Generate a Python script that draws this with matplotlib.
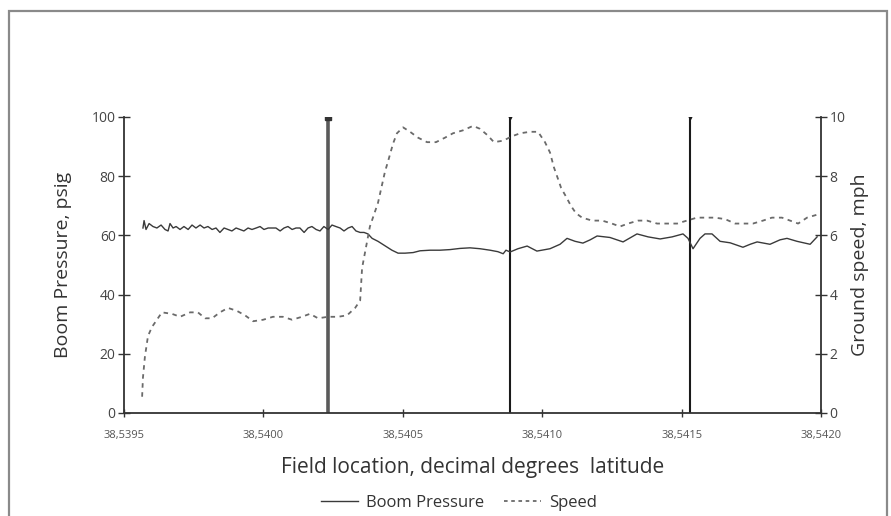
import matplotlib
matplotlib.use("Agg")
import matplotlib.pyplot as plt
from matplotlib.lines import Line2D
from matplotlib.patches import Rectangle
from matplotlib.ticker import FuncFormatter

# ---------------- data ----------------
pressure_lat = [
    38.539568, 38.539572, 38.539579, 38.539590, 38.539604, 38.539618, 38.539633, 38.539647,
    38.539658, 38.539665, 38.539676, 38.539687, 38.539701, 38.539715, 38.539730, 38.539744,
    38.539758, 38.539773, 38.539787, 38.539801, 38.539816, 38.539830, 38.539844, 38.539859,
    38.539873, 38.539887, 38.539902, 38.539916, 38.539930, 38.539945, 38.539959, 38.539974,
    38.539988, 38.540002, 38.540017, 38.540031, 38.540045, 38.540060, 38.540074, 38.540088,
    38.540103, 38.540117, 38.540131, 38.540146, 38.540160, 38.540174, 38.540189, 38.540203,
    38.540217, 38.540232, 38.540246, 38.540260, 38.540275, 38.540289, 38.540304, 38.540318,
    38.540332, 38.540347, 38.540361, 38.540375, 38.540390, 38.540411, 38.540436, 38.540461,
    38.540483, 38.540508, 38.540537, 38.540562, 38.540598, 38.540633, 38.540669, 38.540705,
    38.540741, 38.540777, 38.540813, 38.540841, 38.540860, 38.540870, 38.540885, 38.540913,
    38.540946, 38.540981, 38.541028, 38.541064, 38.541089, 38.541118, 38.541146, 38.541172,
    38.541197, 38.541243, 38.541290, 38.541340, 38.541380, 38.541423, 38.541466, 38.541505,
    38.541523, 38.541541, 38.541566, 38.541584, 38.541609, 38.541638, 38.541674, 38.541720,
    38.541746, 38.541771, 38.541817, 38.541853, 38.541878, 38.541914, 38.541961, 38.541986,
]
pressure_psig = [
    62.5, 65.0, 62.0, 64.0, 63.0, 62.5, 63.5, 62.0,
    61.5, 64.0, 62.5, 63.0, 62.0, 63.0, 62.0, 63.5,
    62.5, 63.5, 62.5, 63.0, 62.0, 62.5, 61.0, 62.5,
    62.0, 61.5, 62.5, 62.0, 61.5, 62.5, 62.0, 62.5,
    63.0, 62.0, 62.5, 62.5, 62.5, 61.5, 62.5, 63.0,
    62.0, 62.5, 62.5, 61.0, 62.5, 63.0, 62.0, 61.5,
    63.0, 62.0, 63.5, 63.0, 62.5, 61.5, 62.5, 63.0,
    61.5, 61.0, 61.0, 60.5, 59.0, 58.0, 56.5, 55.0,
    54.0, 54.0, 54.2, 54.8, 55.0, 55.0, 55.2, 55.6,
    55.8, 55.5, 55.0, 54.5, 53.8, 55.0, 54.4, 55.5,
    56.4, 54.7, 55.5, 57.0, 59.0, 58.0, 57.4, 58.5,
    59.8, 59.3, 57.8, 60.5, 59.5, 58.8, 59.5, 60.5,
    59.0, 55.5, 59.0, 60.5, 60.5, 58.0, 57.5, 56.0,
    57.0, 57.8, 57.0, 58.5, 59.0, 58.0, 57.0, 59.5,
]

speed_lat = [
    38.539565, 38.539568, 38.539575, 38.539586, 38.539600, 38.539618, 38.539636, 38.539672,
    38.539701, 38.539737, 38.539765, 38.539791, 38.539816, 38.539844, 38.539873, 38.539905,
    38.539934, 38.539963, 38.539999, 38.540034, 38.540070, 38.540103, 38.540138, 38.540167,
    38.540196, 38.540232, 38.540268, 38.540300, 38.540329, 38.540347, 38.540354, 38.540382,
    38.540411, 38.540436, 38.540447, 38.540465, 38.540479, 38.540501, 38.540526, 38.540555,
    38.540587, 38.540619, 38.540651, 38.540680, 38.540716, 38.540752, 38.540777, 38.540802,
    38.540827, 38.540860, 38.540892, 38.540921, 38.540956, 38.540985, 38.541010, 38.541028,
    38.541042, 38.541057, 38.541068, 38.541086, 38.541103, 38.541121, 38.541143, 38.541179,
    38.541215, 38.541250, 38.541279, 38.541308, 38.541344, 38.541376, 38.541412, 38.541448,
    38.541484, 38.541519, 38.541555, 38.541584, 38.541620, 38.541656, 38.541692, 38.541720,
    38.541756, 38.541792, 38.541824, 38.541860, 38.541889, 38.541918, 38.541950, 38.541986,
]
speed_mph = [
    0.55, 1.2, 1.9, 2.6, 2.9, 3.15, 3.4, 3.35,
    3.25, 3.4, 3.4, 3.2, 3.2, 3.4, 3.55, 3.45,
    3.3, 3.1, 3.15, 3.25, 3.25, 3.15, 3.25, 3.35,
    3.2, 3.25, 3.25, 3.3, 3.55, 3.8, 4.9, 6.3,
    7.1, 8.15, 8.5, 9.1, 9.45, 9.65, 9.5, 9.3,
    9.15, 9.15, 9.3, 9.45, 9.55, 9.7, 9.6, 9.4,
    9.15, 9.2, 9.35, 9.45, 9.5, 9.5, 9.15, 8.8,
    8.3, 7.9, 7.6, 7.3, 7.0, 6.75, 6.6, 6.5,
    6.5, 6.4, 6.3, 6.4, 6.5, 6.5, 6.4, 6.4,
    6.4, 6.5, 6.6, 6.6, 6.6, 6.55, 6.4, 6.4,
    6.4, 6.5, 6.6, 6.6, 6.5, 6.4, 6.6, 6.7,
]

marker_lat = [38.540232, 38.540885, 38.541530]

x_ticks = [38.5395, 38.5400, 38.5405, 38.5410, 38.5415, 38.5420]
left_ticks = [0, 20, 40, 60, 80, 100]
right_ticks = [0, 2, 4, 6, 8, 10]

# ---------------- figure ----------------
W, H = 891, 516
fig = plt.figure(figsize=(W / 100, H / 100), dpi=100)
fig.patch.set_facecolor("white")

# outer frame
fig.add_artist(Rectangle((9 / W, -0.05), (887 - 9) / W, 1.05 - 11 / H,
                         transform=fig.transFigure, fill=False,
                         edgecolor="#8a8a8a", linewidth=1.6))

left, right = 124 / W, 821 / W
bottom, top = 1 - 413 / H, 1 - 117 / H
ax = fig.add_axes([left, bottom, right - left, top - bottom])
ax2 = ax.twinx()

font = "Open Sans"

ax.plot(pressure_lat, pressure_psig, color="#3a3a3a", linewidth=1.0, zorder=3)
ax2.plot(speed_lat, speed_mph, color="#6a6a6a", linewidth=1.3,
         linestyle=(0, (2.5, 2.5)), zorder=3)

# vertical event lines
ax.vlines(marker_lat[0], 0, 100, color="#5a5a5a", linewidth=2.6, zorder=2)
ax.plot([marker_lat[0]], [100], marker="s", color="#333333", markersize=4, zorder=4)
ax.vlines(marker_lat[1:], 0, 100, color="#1a1a1a", linewidth=1.5, zorder=2)
ax.plot(marker_lat[1:], [100] * 2, marker="v", color="#1a1a1a",
        markersize=3, linestyle="none", zorder=4)

ax.set_xlim(38.5395, 38.5420)
ax.set_ylim(0, 100)
ax2.set_ylim(0, 10)

ax.set_xticks(x_ticks)
ax.xaxis.set_major_formatter(FuncFormatter(lambda v, p: f"{v:.4f}".replace(".", ",")))
ax.set_yticks(left_ticks)
ax2.set_yticks(right_ticks)

for a in (ax, ax2):
    a.spines["top"].set_visible(False)
ax.spines["right"].set_visible(False)
ax2.spines["left"].set_visible(False)
ax2.spines["bottom"].set_visible(False)
for sp in (ax.spines["left"], ax.spines["bottom"], ax2.spines["right"]):
    sp.set_color("#333333")
    sp.set_linewidth(1.3)

ax.tick_params(axis="x", direction="inout", length=6, width=1, colors="#333333",
               labelsize=8, labelcolor="#555555", pad=9)
ax.tick_params(axis="y", direction="inout", length=8, width=1, colors="#333333",
               labelsize=10, labelcolor="#444444", pad=2)
ax2.tick_params(axis="y", direction="inout", length=8, width=1, colors="#333333",
                labelsize=10, labelcolor="#444444", pad=2)
for lab in ax.get_xticklabels():
    lab.set_fontfamily(font)
for lab in ax.get_yticklabels() + ax2.get_yticklabels():
    lab.set_fontfamily(font)

ax.set_xlabel("Field location, decimal degrees  latitude", fontsize=15,
              fontfamily=font, color="#333333", labelpad=12)
ax.set_ylabel("Boom Pressure, psig", fontsize=14, fontfamily=font,
              color="#333333", labelpad=14)
ax2.set_ylabel("Ground speed, mph", fontsize=14, fontfamily=font,
               color="#333333", labelpad=4)

handles = [
    Line2D([], [], color="#3a3a3a", linewidth=1.0),
    Line2D([], [], color="#6a6a6a", linewidth=1.3, linestyle=(0, (2, 2))),
]
fig.legend(handles, ["Boom Pressure", "Speed"], loc="center",
           bbox_to_anchor=(0.515, 1 - 503 / H), ncol=2, frameon=False,
           prop={"family": font, "size": 12}, handlelength=2.2,
           columnspacing=1.2, handletextpad=0.5, labelcolor="#333333")

fig.savefig("out.png", dpi=100, facecolor="white")
